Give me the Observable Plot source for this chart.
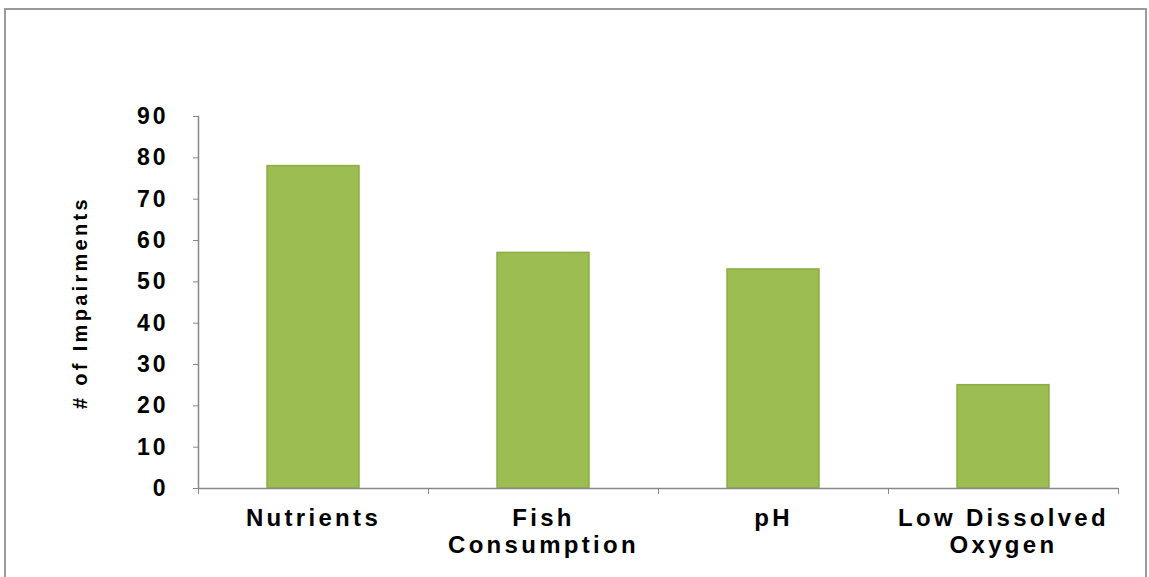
<!DOCTYPE html>
<html>
<head>
<meta charset="utf-8">
<script src="https://cdn.jsdelivr.net/npm/d3@7"></script>
<script src="https://cdn.jsdelivr.net/npm/@observablehq/plot@0.6"></script>
<style>
  html, body { margin: 0; padding: 0; background: #fff; }
  #wrap { position: relative; width: 1149px; height: 577px; overflow: hidden; }
  #border { position: absolute; left: 4px; top: 8px; width: 1143px; height: 600px;
            border: 2px solid #9a9a9a; box-sizing: border-box; }
  #chart { position: absolute; left: 0; top: 0; }
  #chart text { font-family: "Liberation Sans", Arial, sans-serif; fill: #000; }
  #chart g[aria-label="x-axis tick label"] text { letter-spacing: 3.3px; }
  #chart g[aria-label="y-axis tick label"] text { letter-spacing: 3px; }
  #chart g[aria-label="text"] text { letter-spacing: 3.3px; }
</style>
</head>
<body>
<div id="wrap">
  <div id="border"></div>
  <div id="chart"></div>
</div>
<script>
const categories = ["Nutrients", "Fish Consumption", "pH", "Low Dissolved Oxygen"];
const tickLabels = ["Nutrients", "Fish\nConsumption", "pH", "Low Dissolved\nOxygen"];
const impairments = [78, 57, 53, 25];
const yTicks = [0, 10, 20, 30, 40, 50, 60, 70, 80, 90];
const yTitle = "# of Impairments";

const data = categories.map((c, i) => ({category: c, value: impairments[i]}));
const labelOf = new Map(categories.map((c, i) => [c, tickLabels[i]]));

const chart = Plot.plot({
  width: 1149,
  height: 577,
  marginTop: 116,
  marginBottom: 89,
  marginLeft: 198,
  marginRight: 31,
  style: {background: "transparent", fontFamily: "Liberation Sans, Arial, sans-serif"},
  x: {domain: categories, paddingInner: 0.6, paddingOuter: 0.3, label: null},
  y: {domain: [0, 90], label: null},
  marks: [
    Plot.barY(data, {x: "category", y: "value", fill: "#9bbd52", stroke: "#8cad44", strokeWidth: 1.5}),
    Plot.ruleY([0], {stroke: "#888", strokeWidth: 1.5}),
    Plot.frame({anchor: "left", stroke: "#888", strokeWidth: 1.5}),
    Plot.axisY({ticks: yTicks, tickSize: 5, tickPadding: 25, stroke: "#888",
                fontSize: 23, fontWeight: "bold", label: null}),
    Plot.axisX({ticks: categories, tickSize: 6, tickFormat: () => "", dx: -115, stroke: "#888", label: null}),
    Plot.axisX({ticks: categories.slice(-1), tickSize: 6, tickFormat: () => "", dx: 115, stroke: "#888", label: null}),
    Plot.axisX({ticks: categories, tickSize: 0, tickPadding: 19, tickFormat: d => labelOf.get(d),
                fontSize: 24, fontWeight: "bold", lineHeight: 1.1, label: null}),
    Plot.text([yTitle], {frameAnchor: "left", textAnchor: "middle", rotate: -90, dx: -118, fontSize: 20, fontWeight: "bold"})
  ]
});
document.getElementById("chart").appendChild(chart);
</script>
</body>
</html>
